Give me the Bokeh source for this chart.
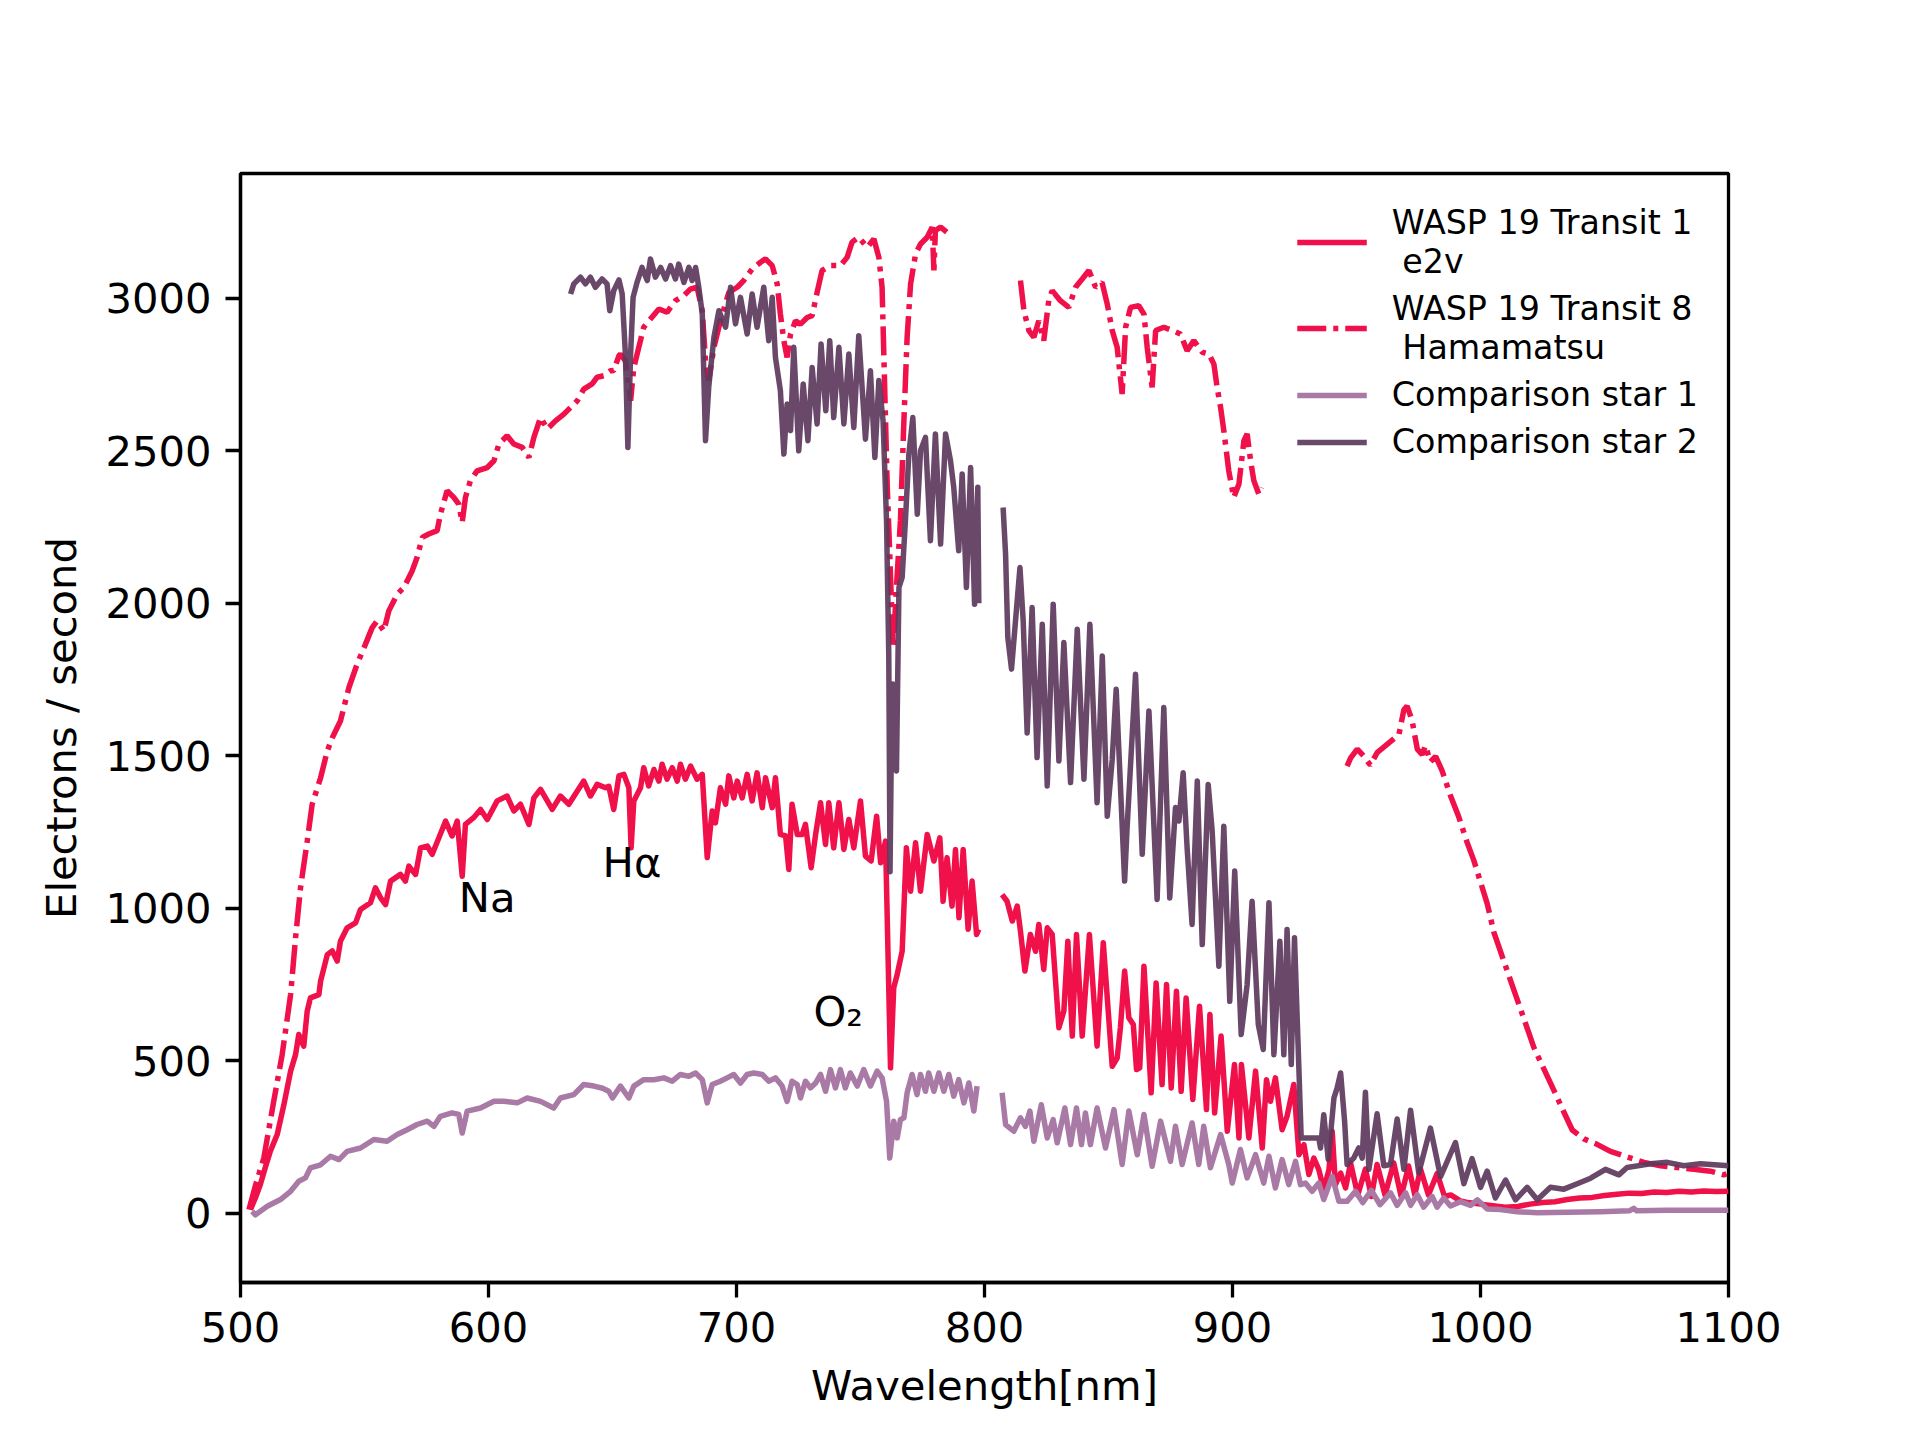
import numpy as np
from bokeh.plotting import figure
from bokeh.models import Legend, LegendItem, Range1d, FixedTicker
from bokeh.core.properties import value
from bokeh.embed import file_html
from bokeh.resources import INLINE

NaN = float("nan")

# ---------------- data ----------------
e2v_wl = [504, 506, 508, 510, 512, 514.8, 517.5, 520.2, 522.2, 523.5, 525.5, 526.9, 528.2, 531.6, 532.3, 535, 537, 539,
          540.3, 543, 546.4, 548.4, 552.4, 554.4, 556.5, 558.5, 560.5, 564.5, 566.5, 567.9, 570.6, 572.6, 575.3, 577.3,
          580, 582.7, 585.3, 587.4, 589.4, 590.7, 594, 596.8, 599.5, 603.5, 607.5, 610.2, 612.9, 616.3, 618.3, 621,
          625.7, 629, 632.4, 638.4, 641.1, 643.8, 647.2, 648.5, 650.5, 652.6, 654.6, 656.6, 657.5, 658.6, 661.3, 662.6,
          664.6, 666.7, 668.7, 670, 672, 674.1, 676.1, 677.4, 679.4, 681.5, 684.1, 686.2, 688.2, 690.2, 691.5, 693.5,
          695.6, 696.9, 698.9, 700.3, 702.3, 704.3, 706.3, 708.3, 710.4, 711.7, 714.4, 715.7, 717.7, 719.8, 721.1,
          722.4, 724.5, 726.5, 727.8, 730.1, 731.9, 733.9, 735.9, 737.2, 739.2, 741.3, 743.3, 745.3, 747.3, 750, 752,
          754.3, 756.5, 758.1, 760.1, 762.1, 763.4, 764.8, 766.8, 768.5, 770.2, 772.2, 774.2, 776.9, 779.6, 782, 783.3,
          784.9, 786.9, 788.3, 789.7, 791.4, 793.4, 795, 796.8, 797.7, NaN,
          807.1, 809.1, 811.2, 813.2, 814.5, 816.3, 818.5, 820.6, 821.9, 823.9, 825.3, 827.3, 830, 832, 833.6, 835.4,
          837.1, 839.4, 842.3, 845.4, 847.9, 851.5, 853.5, 854.8, 856.5, 858.2, 860, 861.3, 862.6, 864.3, 867.2, 869.2,
          871.6, 873.4, 875.3, 877.4, 879.3, 881.3, 884, 886.7, 889.5, 890.9, 892.8, 895.4, 897.9, 900.8, 902.6, 903.6,
          906.6, 909.3, 912, 913.7, 915.3, 917.3, 920, 922, 924.7, 926.8, 928.8, 930.8, 932.8, 934.8, 936.8, 938.9,
          940.2, 941.5, 943.6, 945.6, 947.6, 950.5, 953.6, 956, 958.3, 961.5, 965, 968, 971, 973.5, 975.8, 979, 982.5,
          985.5, 988, 992, 995, 1000, 1005, 1010, 1015, 1020, 1025, 1030, 1035, 1040, 1045, 1050, 1055, 1060, 1065,
          1070, 1075, 1080, 1085, 1090, 1095, 1100]
e2v_flux = [12, 50, 94, 150, 203, 258, 356, 466, 520, 586, 548, 663, 706, 717, 761, 848, 860, 827,
            892, 936, 952, 996, 1018, 1067, 1034, 1012, 1089, 1111, 1089, 1138, 1111, 1198, 1204, 1177,
            1231, 1286, 1237, 1286, 1105, 1275, 1297, 1324, 1291, 1352, 1368, 1319, 1341, 1275, 1362, 1390,
            1324, 1368, 1341, 1417, 1368, 1406, 1395, 1400, 1324, 1434, 1439, 1395, 1198, 1352, 1395, 1461,
            1401, 1455, 1417, 1472, 1423, 1461, 1417, 1472, 1423, 1466, 1423, 1439, 1166, 1319, 1280, 1395,
            1341, 1434, 1362, 1417, 1362, 1439, 1352, 1444, 1330, 1428, 1330, 1428, 1242, 1237, 1127,
            1341, 1242, 1242, 1275, 1133, 1242, 1346, 1209, 1346, 1198, 1346, 1193, 1291, 1198, 1352, 1171,
            1155, 1302, 1149, 1220, 477, 739, 783, 859, 1198, 1056, 1215, 1056, 1242, 1155, 1231, 1023,
            1166, 1007, 1193, 969, 1193, 931, 1089, 914, 931, NaN,
            1045, 1023, 958, 1007, 925, 794, 914, 859, 947, 799, 936, 914, 608, 663, 892, 581,
            914, 581, 914, 548, 887, 482, 509, 608, 794, 641, 619, 471, 477, 810, 395, 755,
            422, 750, 411, 728, 400, 706, 373, 679, 340, 652, 329, 581, 269, 488, 247, 488,
            247, 466, 214, 438, 367, 444, 274, 318, 422, 192, 225, 127, 181, 143, 77, 143,
            269, 94, 132, 83, 165, 60, 145, 55, 160, 60, 165, 55, 155, 60, 145, 60, 130,
            55, 60, 40, 35, 30, 25, 20, 22, 30, 35, 38, 45, 50, 52, 58, 62, 66, 65,
            70, 68, 72, 70, 73, 71, 72]

ham_wl = [503.4, 506, 509.4, 513.4, 516.8, 520.2, 522.2, 524.2, 526.9, 528.9, 532.3, 535, 537, 540.3, 543.7, 547,
          550.4, 553.1, 555.1, 557.8, 559.8, 563.2, 565.9, 569.2, 571.2, 573.3, 575.9, 579.3, 580.6, 583.3, 586, 588,
          589.4, 590.7, 592.7, 595.4, 599.5, 602.2, 604.2, 607.5, 610.2, 613.6, 616.3, 618.3, 621, 623.7, 627, 630.4,
          633.1, 635.8, 638.4, 641.8, 643.8, 646.5, 649.2, 650.5, 652.6, 653.2, 655.2, 657.3, 658.6, 660.6, 662.6,
          665.3, 668.7, 672, 675.4, 678.8, 681.4, 684.1, 686.2, 687.5, 688.8, 690.9, 693.5, 696.9, 700.3, 702.9,
          706.3, 709.7, 711.7, 714.4, 716.4, 717.7, 719.1, 720.4, 721.8, 723.8, 725.8, 728.5, 730.5, 732.5, 734.5,
          737.9, 741.9, 744.6, 746.6, 749.3, 752.7, 755.4, 757.4, 758.7, 759.4, 760.1, 760.8, 761.8, 762.5, 763.2,
          764.5, 766.1, 767.5, 768.8, 770.2, 772.2, 774.2, 776.9, 778.9, 779.6, 780.2, 782.3, 785.6, NaN,
          814.5, 815.9, 817.9, 819.9, 821.9, 823.9, 825.9, 827.3, 830.6, 834, 836.7, 839.4, 842.1, 844.8, 847.4,
          849.5, 851.5, 853.5, 855.5, 856.9, 858.9, 862.2, 864.3, 865.6, 867.6, 869, 872.3, 875.7, 879, 881.7, 884.4,
          887.8, 890.5, 892.5, 893.8, 895.2, 896.5, 898.5, 900.5, 902.6, 904.6, 905.9, 907.3, 908.6, 910.6, 911.6, NaN,
          946.2, 947.6, 950.3, 953, 955.6, 958.3, 961, 964.4, 967.1, 969.1, 970.4, 972.4, 974.5, 976.5, 977.8, 979.8,
          981.9, 984.5, 987.9, 991.3, 994.6, 997.3, 1000, 1002.7, 1005.4, 1009.4, 1013.4, 1017.5, 1021.5, 1025.5,
          1029.6, 1033.6, 1037, 1041.7, 1047, 1052.4, 1059.1, 1065.9, 1072.6, 1079.3, 1086, 1092.7, 1098.1, 1100]
ham_flux = [12, 90, 181, 367, 520, 717, 903, 1067, 1220, 1341, 1428, 1516, 1559, 1614, 1723, 1800,
            1866, 1920, 1942, 1909, 1975, 2030, 2052, 2106, 2150, 2216, 2227, 2238, 2292, 2369, 2347, 2325,
            2265, 2347, 2402, 2434, 2445, 2467, 2522, 2549, 2522, 2511, 2478, 2544, 2609, 2571, 2598, 2620,
            2642, 2664, 2702, 2719, 2741, 2746, 2762, 2763, 2812, 2817, 2795, 2664, 2773, 2839, 2905,
            2932, 2965, 2954, 2992, 3009, 3030, 3036, 2959, 2795, 2730, 2839, 2926, 3019, 3036, 3058,
            3096, 3118, 3129, 3107, 3047, 2948, 2861, 2806, 2883, 2926, 2915, 2937, 2943, 3019, 3091,
            3107, 3107, 3134, 3184, 3200, 3167, 3194, 3134, 3036, 2817, 2598, 2380, 2161, 1997, 1855,
            2052, 2270, 2598, 2872, 3047, 3145, 3178, 3200, 3233, 3091, 3222, 3233, 3211, NaN,
            3058, 2959, 2894, 2872, 2926, 2861, 2992, 3025, 2992, 2970, 3036, 3063, 3091, 3036, 3052,
            2981, 2894, 2839, 2686, 2905, 2970, 2976, 2948, 2839, 2708, 2894, 2905, 2894, 2883, 2828, 2861,
            2823, 2817, 2784, 2708, 2642, 2566, 2434, 2347, 2391, 2533, 2555, 2467, 2402, 2358, 2380, NaN,
            1466, 1492, 1522, 1498, 1469, 1510, 1528, 1551, 1569, 1651, 1663, 1616, 1522, 1504, 1533, 1480,
            1498, 1451, 1369, 1298, 1216, 1157, 1086, 1015, 921, 827, 733, 638, 544, 474,
            403, 332, 273, 244, 226, 203, 185, 167, 156, 150, 144, 138, 126, 132]

comp1_wl = [504.7, 506, 510.8, 516.1, 520.2, 523.5, 526.2, 528.2, 532.3, 536.3, 539.7, 543, 548.4, 553.8, 559.1,
            563.2, 567.2, 571.2, 575.3, 578, 580.6, 585.3, 588, 589.4, 591.4, 596.8, 602.2, 606.2, 611.6, 615.6, 621,
            626.3, 629, 634.4, 638.4, 642.5, 646, 648.5, 650, 653.2, 656.6, 658.6, 662.6, 666.7, 670.7, 674.1, 677.4,
            680.8, 683.5, 686.2, 688.2, 690.2, 693.5, 696.2, 698.9, 701.6, 704.3, 707, 710.4, 713, 715.7, 718.4, 720.4,
            722.4, 724.5, 725.8, 727.8, 729.8, 731.9, 733.9, 735.9, 737.9, 739.9, 741.9, 743.9, 745.9, 748.7, 751.3,
            754, 756.7, 758.7, 760.5, 761.8, 763.4, 764.8, 766.1, 767.5, 768.8, 770.8, 772.8, 774.2, 776.2, 777.5,
            779.6, 781.6, 783.6, 785.6, 787.6, 789.6, 791.7, 793.7, 795.7, 797, NaN,
            807.1, 808.5, 811.8, 814.5, 816.5, 818.3, 819.9, 822.9, 825.3, 827.7, 829.3, 832.4, 834.7, 837.1, 839.1,
            840.7, 842.7, 845.4, 848.8, 852.2, 855.5, 858.2, 861.6, 864.3, 867.6, 871, 875, 877, 879.7, 883.7, 886.4,
            888.4, 891.1, 895.2, 898.5, 899.9, 903.2, 905.9, 909.3, 912.6, 914.7, 917.3, 920, 922.7, 925.4, 927.4,
            929.4, 932.1, 934.8, 936.8, 940.2, 942.9, 946.2, 949.6, 952.5, 956, 959.5, 963.7, 966.4, 969.8, 971.8,
            974.5, 977.1, 980.5, 982.5, 985.2, 987.9, 991.9, 996, 998.7, 1002.7, 1008, 1014.8, 1022.9, 1035, 1048.4,
            1060, 1061.8, 1063, 1075.3, 1088.7, 1100]
comp1_flux = [6, -5, 23, 45, 72, 105, 116, 149, 159, 187, 176, 203, 214, 242, 236,
              258, 274, 291, 302, 285, 318, 329, 324, 263, 335, 345, 367, 367, 362, 378, 367,
              345, 378, 389, 422, 417, 410, 400, 378, 417, 378, 417, 438, 438, 444, 433, 455,
              449, 460, 438, 362, 422, 433, 444, 455, 427, 455, 460, 455, 433, 444, 417, 367,
              433, 422, 378, 433, 411, 427, 455, 400, 471, 411, 471, 411, 460, 417, 471,
              417, 466, 444, 367, 181, 302, 247, 307, 313, 395, 455, 389, 455, 400, 460,
              400, 460, 400, 455, 384, 438, 362, 427, 335, 417, NaN,
              395, 291, 269, 313, 285, 335, 236, 356, 247, 307, 231, 345, 225, 345, 225,
              329, 225, 345, 214, 340, 160, 335, 192, 324, 154, 302, 170, 285, 160, 296, 160,
              285, 149, 258, 160, 99, 209, 116, 192, 99, 187, 83, 176, 94, 170, 94,
              99, 72, 99, 45, 121, 39, 39, 72, 35, 75, 28, 67, 26, 67, 26,
              61, 20, 55, 20, 50, 24, 38, 26, 44, 14, 12, 5, 2, 3, 5,
              8, 16, 8, 10, 10, 10]

comp2_wl = [633.1, 634.4, 637.1, 639.1, 641.1, 643.1, 645.8, 647.8, 648.9, 650.5, 652.6, 653.9, 655.2, 656.2, 657.3,
            658.3, 659.9, 661.9, 664, 665.3, 667.3, 669.4, 671.4, 673.4, 675.4, 676.7, 678.8, 680.8, 682.1, 683.5,
            684.8, 686.2, 687.5, 688.8, 690.9, 692.9, 695.6, 697.6, 699.6, 701.6, 704.3, 706.3, 708.3, 711, 713, 714.4,
            715.7, 717.7, 719.1, 720.4, 721.8, 723.1, 725.1, 726.9, 728.8, 730.5, 732.5, 734.1, 736, 737.6, 739.2,
            741.3, 743.3, 745.3, 747.3, 749.3, 752, 754, 755.8, 757.4, 759.1, 760.5, 761.4, 761.9, 762.4, 763, 763.6,
            764.5, 765.5, 766.8, 768.1, 769.5, 771.1, 772.9, 774.2, 776.2, 778.2, 780.2, 782.3, 784.3, 786.3, 787.6,
            789.6, 791, 792.7, 794.4, 796, 797.3, 797.7, NaN,
            807.5, 808.5, 809.4, 810.9, 812.5, 814.3, 815.6, 817.2, 819.2, 821.2, 823.3, 825.3, 827.7, 830, 832,
            834.7, 837.4, 840.1, 842.5, 845.4, 847.5, 849.5, 851.5, 853.1, 856.5, 857.5, 860.9, 863.6, 866.3, 869.6,
            872.3, 874.7, 877, 878.4, 880.1, 881.7, 883.7, 885.8, 887.8, 890.2, 891.8, 894.5, 896.5, 898.9, 900.9,
            903.5, 905.9, 907.9, 910.4, 912.4, 914.7, 916.7, 919.1, 920.7, 922, 923.7, 925, 926.8, 927.7, 932.8,
            934.8, 935.5, 936.8, 938.6, 940.9, 942.2, 943.6, 945.2, 946.2, 948.9, 950.9, 952.3, 953.6, 955, 958.3,
            961, 963.7, 966.4, 969.1, 971.8, 975.1, 979.8, 983.9, 989.9, 993.3, 996.6, 1000, 1002.7, 1006, 1010.1,
            1014.1, 1018.8, 1022.9, 1028.2, 1033.6, 1039, 1044.4, 1050.4, 1055.8, 1059.1, 1068.5, 1075.3, 1082,
            1088.7, 1100]
comp2_flux = [3014, 3047, 3069, 3047, 3069, 3036, 3063, 3047, 2959, 3025, 3060, 3014, 2817, 2511, 2817,
              3003, 3052, 3101, 3058, 3129, 3069, 3101, 3063, 3107, 3063, 3112, 3052, 3101, 3058, 3101,
              3036, 2948, 2533, 2708, 2872, 2959, 2905, 3036, 2916, 3003, 2883, 3014, 2905, 3036, 2861, 3003,
              2806, 2697, 2489, 2653, 2566, 2839, 2500, 2719, 2533, 2773, 2588, 2850, 2631, 2861, 2609,
              2839, 2588, 2817, 2576, 2877, 2538, 2762, 2478, 2730, 2598, 2270, 1833, 1120, 1500, 1735, 1500,
              1450, 2052, 2085, 2270, 2489, 2609, 2292, 2500, 2544, 2205, 2555, 2194, 2555, 2467, 2380,
              2172, 2424, 2052, 2445, 1997, 2380, 2000, NaN,
              2314, 2161, 1888, 1784, 1942, 2117, 1942, 1575, 1986, 1494, 1931, 1401, 1997, 1483, 1871,
              1412, 1915, 1423, 1931, 1346, 1827, 1302, 1488, 1718, 1089, 1264, 1767, 1177, 1647, 1029,
              1658, 1034, 1330, 1286, 1444, 1198, 947, 1417, 881, 1406, 1253, 810, 1269, 695, 1122,
              586, 750, 1023, 619, 537, 1018, 520, 892, 520, 930, 488, 903, 466, 247, 247,
              247, 214, 323, 176, 378, 411, 460, 302, 160, 181, 214, 181, 397, 144, 326,
              156, 160, 309, 144, 338, 132, 279, 120, 232, 97, 179, 85, 138, 50, 109,
              44, 85, 44, 85, 79, 97, 115, 144, 126, 150, 162, 167, 156,
              162, 156]

labels = ["WASP 19 Transit 1\n e2v", "WASP 19 Transit 8\n Hamamatsu", "Comparison star 1", "Comparison star 2"]
colors = ["#F0104A", "#F0104A", "#A97AA6", "#5C385C"]

annot_text = ["Na", "H\u03b1", "O\u2082"]
annot_x = [588, 646, 731]
annot_y = [1035, 1150, 660]

x_ticks = [500, 600, 700, 800, 900, 1000, 1100]
y_ticks = [0, 500, 1000, 1500, 2000, 2500, 3000]

# ---------------- figure ----------------
FONT = "DejaVu Sans"
p = figure(frame_width=1488, frame_height=1109,
           x_range=Range1d(500, 1100), y_range=Range1d(-227, 3409),
           output_backend="svg", toolbar_location=None,
           min_border_left=240, min_border_right=176, min_border_top=173, min_border_bottom=142,
           background_fill_color="white", border_fill_color="white")
p.xgrid.visible = False
p.ygrid.visible = False
p.outline_line_color = "black"
p.outline_line_width = 3.3
p.outline_line_alpha = 1.0

lw = 5.5
r1 = p.line(e2v_wl, e2v_flux, line_color=colors[0], line_width=lw, line_join="round")
r2 = p.line(ham_wl, ham_flux, line_color=colors[1], line_width=lw, line_dash="29 7 5 7")
r3 = p.line(comp1_wl, comp1_flux, line_color=colors[2], line_width=lw, line_join="round")
r4 = p.line(comp2_wl, comp2_flux, line_color=colors[3], line_width=lw, line_join="round", line_alpha=0.92)

p.text(x=annot_x, y=annot_y, text=annot_text, text_font=value(FONT), text_font_size="41.7px",
       text_align="left", text_baseline="alphabetic", text_color="black")

for ax in (p.xaxis[0], p.yaxis[0]):
    ax.axis_line_width = 3.3
    ax.axis_line_color = "black"
    ax.major_tick_line_width = 3.3
    ax.major_tick_out = 15
    ax.major_tick_in = 0
    ax.minor_tick_line_color = None
    ax.major_label_text_font = FONT
    ax.major_label_text_font_size = "41.7px"
    ax.major_label_text_color = "black"
    ax.major_label_standoff = 14
    ax.axis_label_text_font = FONT
    ax.axis_label_text_font_size = "41.7px"
    ax.axis_label_text_font_style = "normal"
    ax.axis_label_text_color = "black"
    ax.axis_label_standoff = 16

p.xaxis.ticker = FixedTicker(ticks=x_ticks)
p.yaxis.ticker = FixedTicker(ticks=y_ticks)
p.xaxis.axis_label = "Wavelength[nm]"
p.yaxis.axis_label = "Electrons / second"

legend = Legend(items=[LegendItem(label=labels[0], renderers=[r1]),
                       LegendItem(label=labels[1], renderers=[r2]),
                       LegendItem(label=labels[2], renderers=[r3]),
                       LegendItem(label=labels[3], renderers=[r4])],
                location="top_right", margin=30, padding=28, spacing=8,
                glyph_width=70, glyph_height=20, label_standoff=25,
                label_text_font=FONT, label_text_font_size="33.3px", label_text_color="black",
                border_line_color=None, background_fill_alpha=0)
p.add_layout(legend)

open("out.html", "w").write(file_html(p, INLINE))
